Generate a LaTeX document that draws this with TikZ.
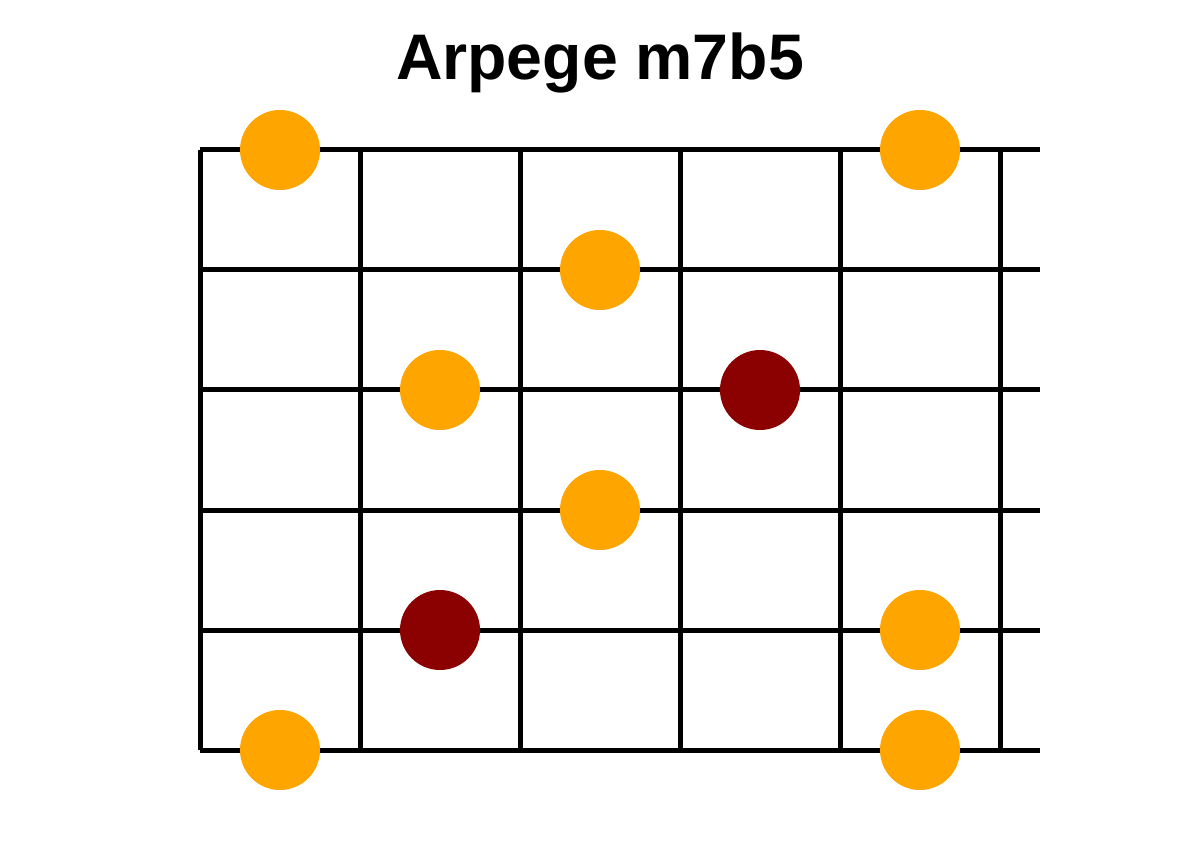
\documentclass[tikz,border=0pt]{standalone}
\usepackage{fontspec}
\setmainfont{Liberation Sans}
\begin{document}
\begin{tikzpicture}[x=1pt,y=-1pt,
  gridline/.style={line width=5pt,black},
  dot/.style={circle,minimum size=80pt,inner sep=0pt,draw=none},
  root/.style={dot,fill=orange},
  alt/.style={dot,fill=darkred}]
\definecolor{orange}{RGB}{255,165,0}
\definecolor{darkred}{RGB}{139,0,0}
\useasboundingbox (0,0) rectangle (1200,850);
\node[font=\bfseries\fontsize{64.4}{70}\selectfont,anchor=base] (title) at (600,80) {Arpege m7b5};
\foreach \y in {150,270,390,510,630,750}
  \draw[gridline] (200,\y) -- (1040,\y);
\foreach \x in {200,360,520,680,840,1000}
  \draw[gridline] (\x,150) -- (\x,750);
\node[root] (d1) at (280,150) {};
\node[root] (d2) at (920,150) {};
\node[root] (d3) at (600,270) {};
\node[root] (d4) at (440,390) {};
\node[alt]  (d5) at (760,390) {};
\node[root] (d6) at (600,510) {};
\node[alt]  (d7) at (440,630) {};
\node[root] (d8) at (920,630) {};
\node[root] (d9) at (280,750) {};
\node[root] (d10) at (920,750) {};
\end{tikzpicture}
\end{document}
